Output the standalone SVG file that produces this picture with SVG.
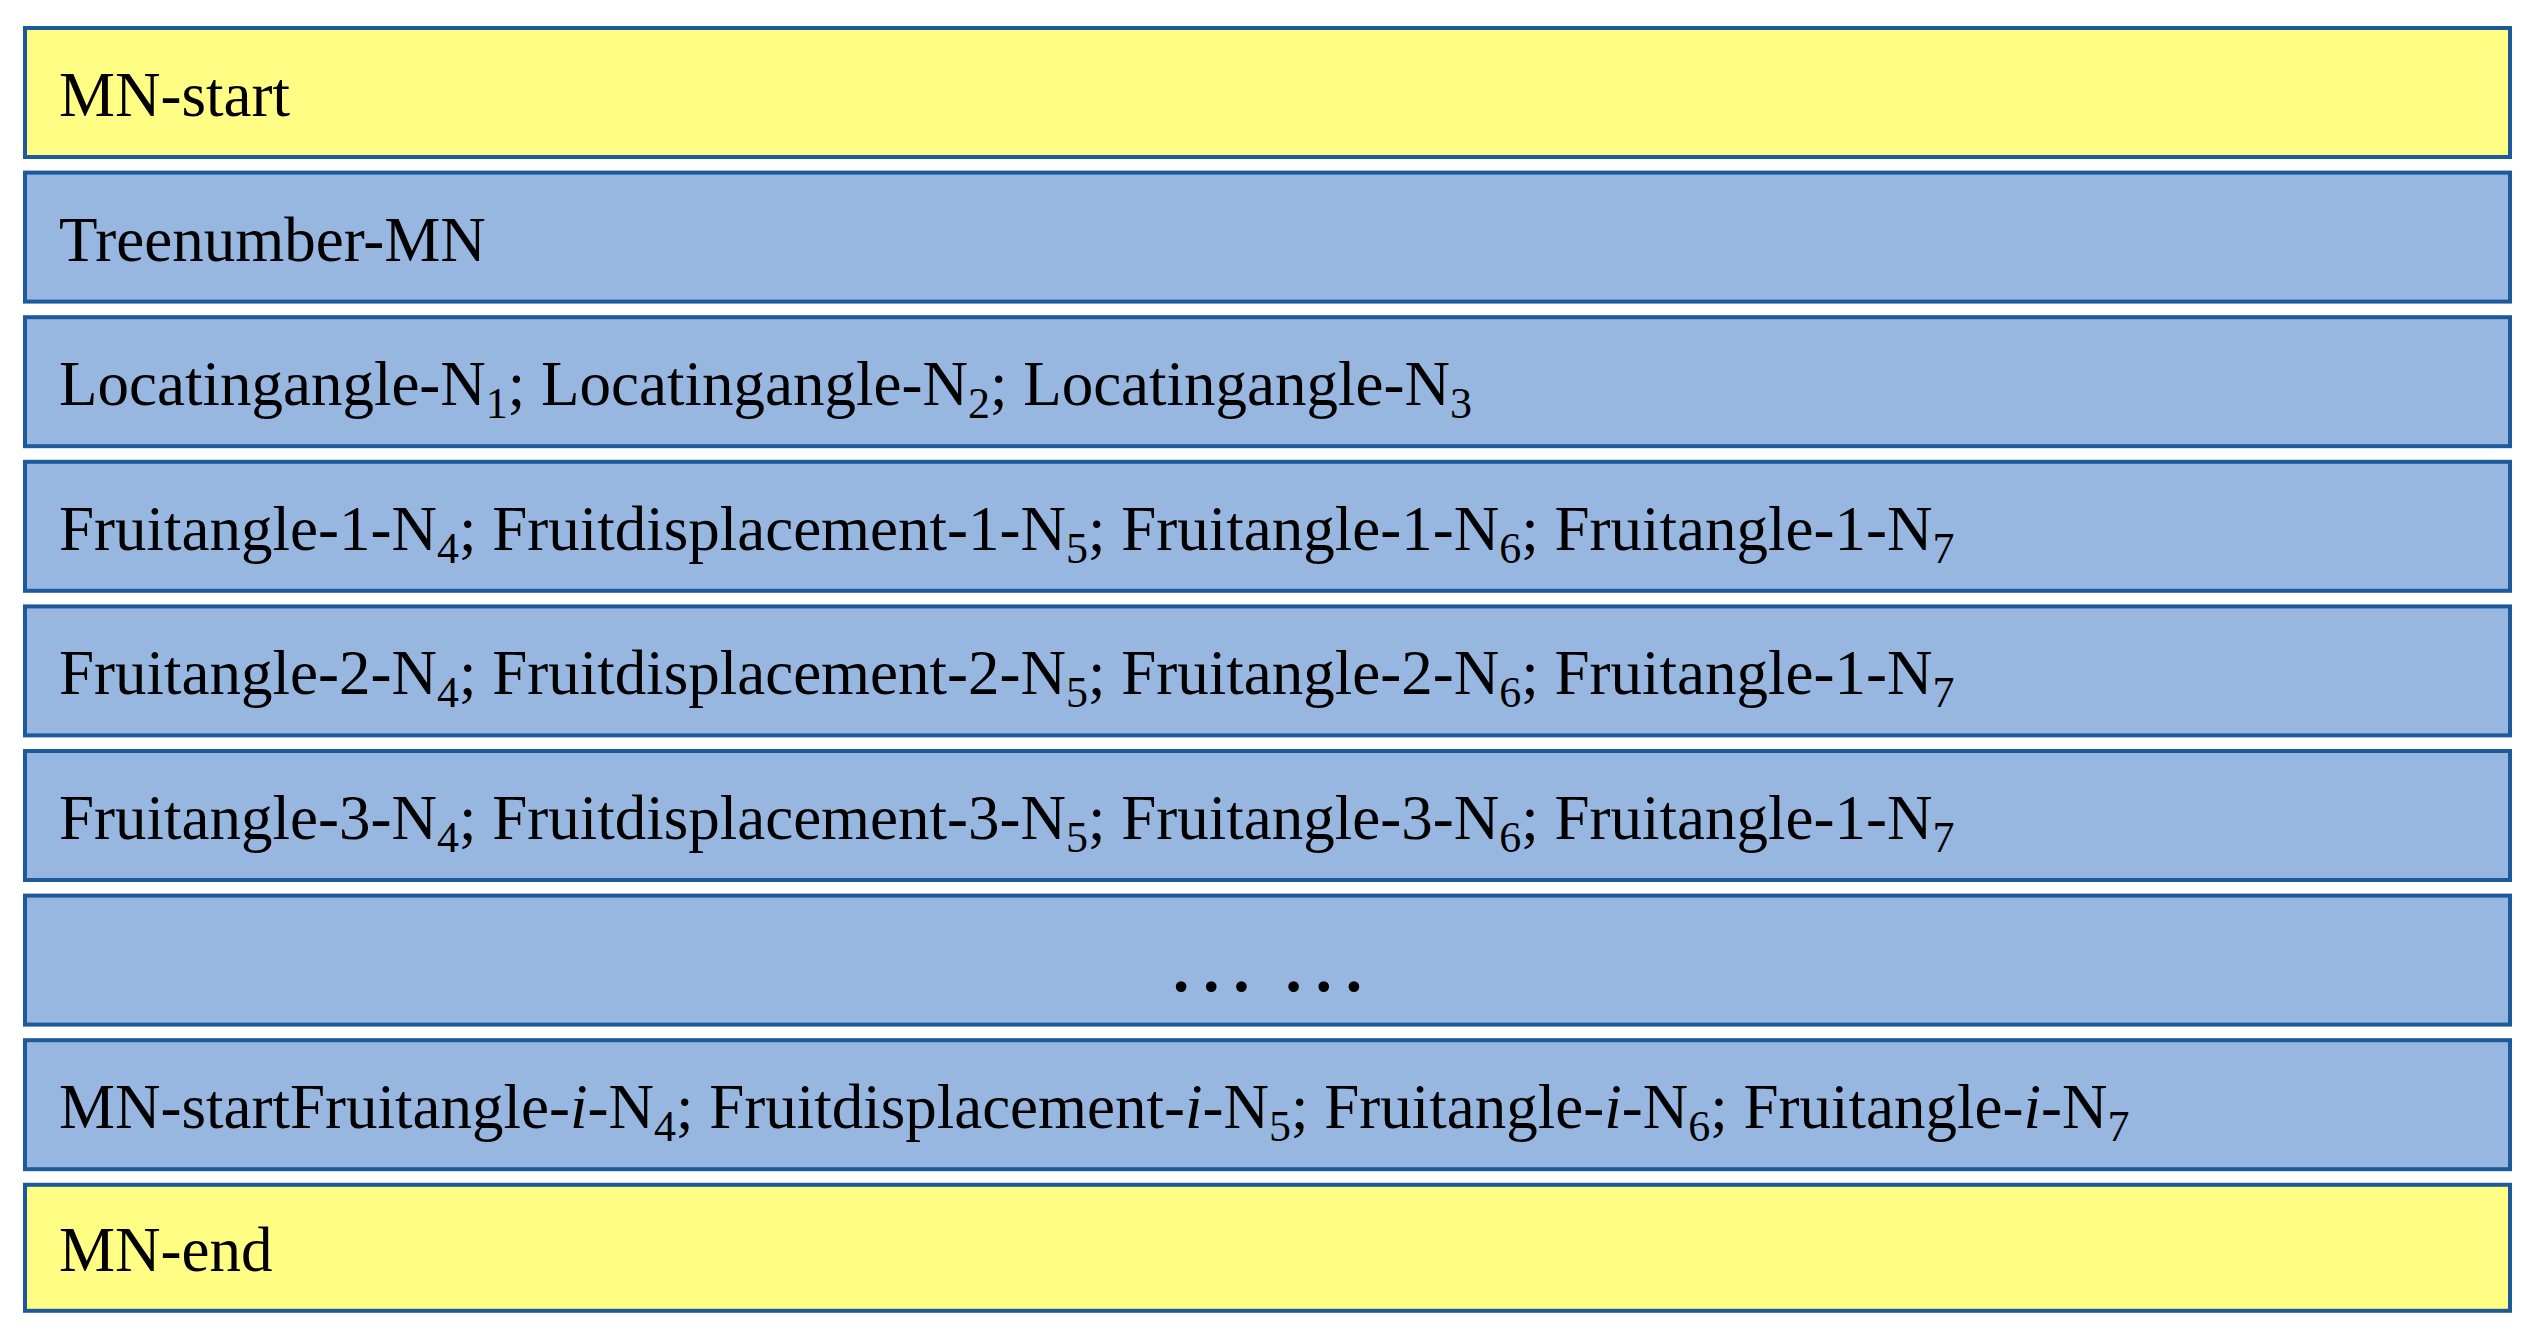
<svg xmlns="http://www.w3.org/2000/svg" width="2535" height="1338" viewBox="0 0 2535 1338">
<style>
.box{stroke:#1C5A9C;stroke-width:4}
.y{fill:#FFFD84}
.b{fill:#97B7E1}
.t{font-family:"Liberation Serif","Times New Roman",serif;font-size:63px;fill:#000}
.s{font-size:44px}
.i{font-style:italic}
</style>
<rect width="2535" height="1338" fill="#fff"/>
<g id="row-mn-start">
<rect class="box y" x="25" y="28" width="2485" height="129"/>
<text class="t" x="59" y="116">MN-start</text>
</g>
<g id="row-treenumber">
<rect class="box b" x="25" y="172.6" width="2485" height="129"/>
<text class="t" x="59" y="260.6">Treenumber-MN</text>
</g>
<g id="row-locating">
<rect class="box b" x="25" y="317.2" width="2485" height="129"/>
<text class="t" x="59" y="405.2">Locatingangle-N<tspan class="s" dy="13">1</tspan><tspan dy="-13">; Locatingangle-N</tspan><tspan class="s" dy="13">2</tspan><tspan dy="-13">; Locatingangle-N</tspan><tspan class="s" dy="13">3</tspan></text>
</g>
<g id="row-fruit-1">
<rect class="box b" x="25" y="461.8" width="2485" height="129"/>
<text class="t" x="59" y="549.8">Fruitangle-1-N<tspan class="s" dy="13">4</tspan><tspan dy="-13">; Fruitdisplacement-1-N</tspan><tspan class="s" dy="13">5</tspan><tspan dy="-13">; Fruitangle-1-N</tspan><tspan class="s" dy="13">6</tspan><tspan dy="-13">; Fruitangle-1-N</tspan><tspan class="s" dy="13">7</tspan></text>
</g>
<g id="row-fruit-2">
<rect class="box b" x="25" y="606.4" width="2485" height="129"/>
<text class="t" x="59" y="694.4">Fruitangle-2-N<tspan class="s" dy="13">4</tspan><tspan dy="-13">; Fruitdisplacement-2-N</tspan><tspan class="s" dy="13">5</tspan><tspan dy="-13">; Fruitangle-2-N</tspan><tspan class="s" dy="13">6</tspan><tspan dy="-13">; Fruitangle-1-N</tspan><tspan class="s" dy="13">7</tspan></text>
</g>
<g id="row-fruit-3">
<rect class="box b" x="25" y="751" width="2485" height="129"/>
<text class="t" x="59" y="839">Fruitangle-3-N<tspan class="s" dy="13">4</tspan><tspan dy="-13">; Fruitdisplacement-3-N</tspan><tspan class="s" dy="13">5</tspan><tspan dy="-13">; Fruitangle-3-N</tspan><tspan class="s" dy="13">6</tspan><tspan dy="-13">; Fruitangle-1-N</tspan><tspan class="s" dy="13">7</tspan></text>
</g>
<g id="row-ellipsis">
<rect class="box b" x="25" y="895.6" width="2485" height="129"/>
<text class="t" x="1267.5" y="991" text-anchor="middle" style="font-size:90px">… …</text>
</g>
<g id="row-fruit-i">
<rect class="box b" x="25" y="1040.2" width="2485" height="129"/>
<text class="t" x="59" y="1128.2">MN-startFruitangle-<tspan class="i">i</tspan>-N<tspan class="s" dy="13">4</tspan><tspan dy="-13">; Fruitdisplacement-</tspan><tspan class="i">i</tspan>-N<tspan class="s" dy="13">5</tspan><tspan dy="-13">; Fruitangle-</tspan><tspan class="i">i</tspan>-N<tspan class="s" dy="13">6</tspan><tspan dy="-13">; Fruitangle-</tspan><tspan class="i">i</tspan>-N<tspan class="s" dy="13">7</tspan></text>
</g>
<g id="row-mn-end">
<rect class="box y" x="25" y="1184.8" width="2485" height="126"/>
<text class="t" x="59" y="1271">MN-end</text>
</g>
<g id="connectors"/>
</svg>
